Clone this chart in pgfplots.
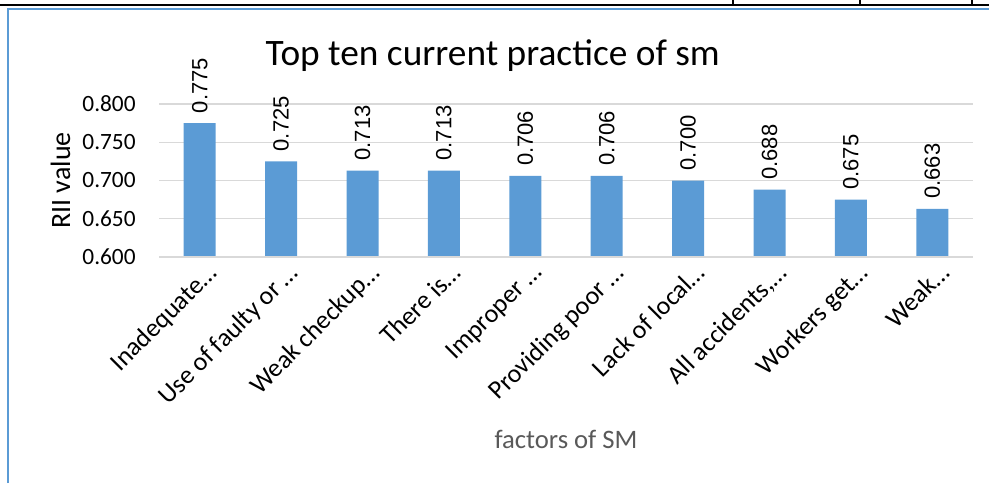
\documentclass[border=0pt]{standalone}
\usepackage{pgfplots}
\pgfplotsset{compat=1.18}
\usepackage{fontspec}
\setmainfont{Carlito}
\newfontfamily\arialf{Liberation Sans}
\definecolor{barblue}{HTML}{5B9BD5}
\definecolor{gridgray}{HTML}{D9D9D9}
\definecolor{labgray}{HTML}{595959}
\definecolor{frameblue}{HTML}{5B9BD5}
\begin{document}
\begin{tikzpicture}
\useasboundingbox (0pt,0pt) rectangle (741.75pt,-362.25pt);
% page decorations
\draw[black,line width=1.2pt] (0pt,-3.75pt) -- (741.75pt,-3.75pt);
\draw[black,line width=0.8pt] (549.75pt,0pt) -- (549.75pt,-3.75pt) (645pt,0pt) -- (645pt,-3.75pt) (729pt,0pt) -- (729pt,-3.75pt);
\draw[frameblue,line width=1pt] (6pt,-362.25pt) -- (6pt,-6.75pt) -- (741.75pt,-6.75pt);
\begin{axis}[
  at={(119.25pt,-192.75pt)}, anchor=south west,
  scale only axis,
  width=610.5pt, height=114.75pt,
  ymin=0.6, ymax=0.8,
  xmin=-0.5, xmax=9.5,
  ytick={0.6,0.65,0.7,0.75,0.8},
  yticklabel style={/pgf/number format/fixed,/pgf/number format/precision=3,/pgf/number format/fixed zerofill,/pgf/number format/assume math mode=true,font=\fontsize{17.5}{20}\selectfont, xshift=-14pt},
  xtick=data,
  xticklabels={Inadequate…,Use of faulty or …,Weak checkup…,There is…,Improper …,Providing poor …,Lack of local…,{All accidents,…},Workers get…,Weak…},
  xticklabel style={rotate=45, anchor=north east, font=\fontsize{19.5}{22}\selectfont, yshift=-2pt, xshift=4pt},
  ymajorgrids, grid style={gridgray, line width=1pt},
  major tick length=0pt,
  axis line style={draw=none},
  axis x line*=bottom,
  axis y line*=left,
  ybar, bar width=24pt,
  nodes near coords,
  point meta=explicit symbolic,
  every node near coord/.append style={rotate=90, anchor=west, font=\arialf\fontsize{16.5}{19}\selectfont, black, xshift=4pt},
  ylabel={RII value},
  ylabel style={font=\fontsize{21}{24}\selectfont, at={(axis description cs:-0.121,0.5)}, anchor=center},
  xlabel={factors of SM},
  xlabel style={font=\fontsize{20}{23}\selectfont, text=labgray, at={(axis description cs:0.5,0)}, anchor=center, yshift=-137pt},
  title={Top ten current practice of sm},
  title style={font=\fontsize{28}{32}\selectfont, at={(axis description cs:0.41,1)}, anchor=center, yshift=30pt},
  clip=false,
]
\addplot[fill=barblue, draw=none] table[meta=lab] {
x y lab
0 0.775 0.775
1 0.725 0.725
2 0.713 0.713
3 0.713 0.713
4 0.706 0.706
5 0.706 0.706
6 0.700 0.700
7 0.688 0.688
8 0.675 0.675
9 0.663 0.663
};
\draw[gridgray, line width=1pt] (axis cs:-0.5,0.6) -- (axis cs:9.5,0.6);
\end{axis}
\end{tikzpicture}
\end{document}
